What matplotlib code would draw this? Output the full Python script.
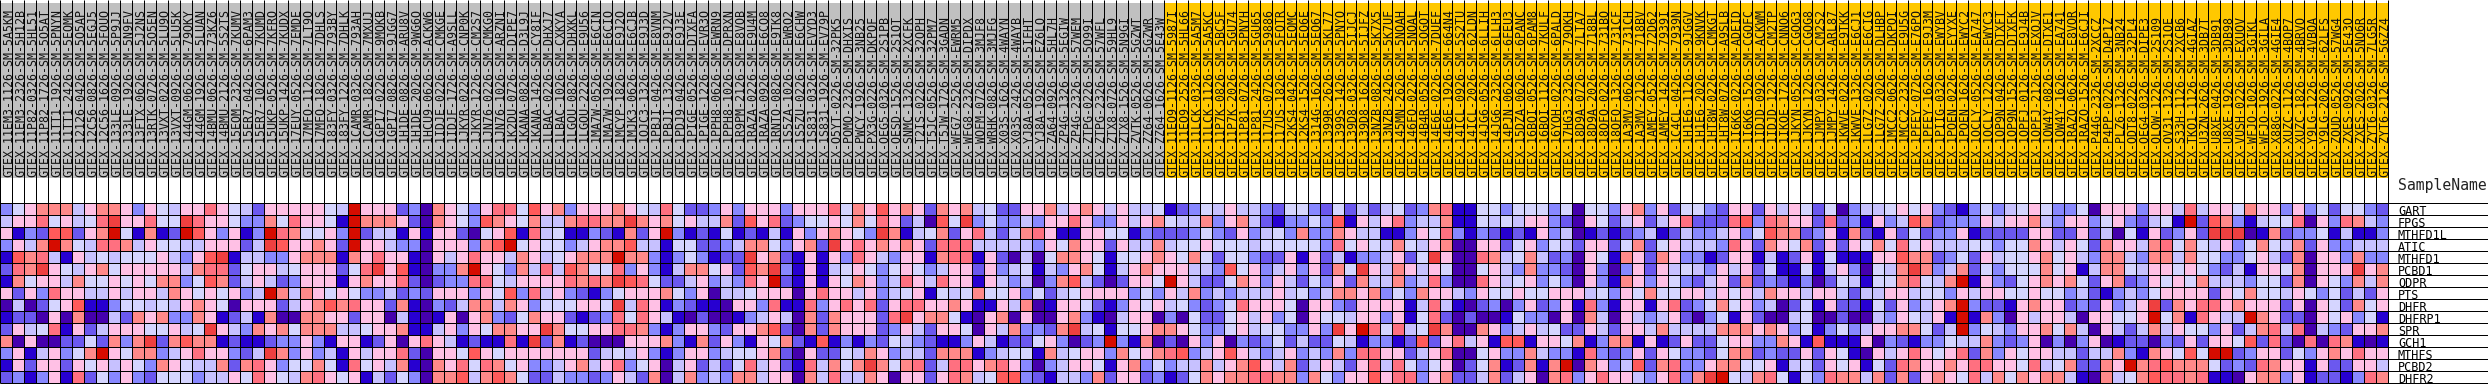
import matplotlib
matplotlib.use("Agg")
import matplotlib.pyplot as plt
from matplotlib.colors import ListedColormap
import numpy as np

# palette, one colour per expression level 0..b
palette = ["#4500AD", "#2700D1", "#6B58EF", "#8888FF", "#C7C1FF", "#D5D5FF",
           "#FFC0E5", "#FF8989", "#FF7080", "#FF5A5A", "#EF4040", "#D60C00"]

genes = ["GART", "FPGS", "MTHFD1L", "ATIC", "MTHFD1", "PCBD1", "QDPR", "PTS",
         "DHFR", "DHFRP1", "SPR", "GCH1", "MTHFS", "PCBD2", "DHFR2"]

# one character per sample, hex level
GART = ("3567774677" "6365466865" "426666654b" "66623"
        "0765368859" "6736667654" "8522363666" "3666"
        "8576967627" "6745226674" "6764644512" "3546"
        "4432553252" "4245237811" "5535553505" "5367"
        "3625532662" "6465250344" "5656321353" "4565"
        "3350666366" "4846657663" "63525532")
FPGS = ("466856458a" "66855a8665" "337586651b" "77762"
        "0765397657" "4478877a76" "7564472968" "2355"
        "6575862409" "5a35334366" "8633646754" "4736"
        "7421335391" "6468344711" "5454663206" "5246"
        "2468222893" "8766282316" "3497233364" "6674"
        "3663563245" "1b29731455" "80638743")
MTHFD1L = ("613299267b" "51712b9636" "13b875563b" "24416"
           "1662056918" "4511321726" "b312151214" "1636"
           "7653a71457" "2684247861" "1665513222" "3532"
           "6345373376" "4411365831" "3212163401" "2123"
           "4124334635" "9772361721" "6252336122" "2266"
           "2262405162" "362aaa0172" "33514113")
ATIC = ("3647b75488" "7465544666" "24a966762b" "66433"
        "0666379b56" "5534677944" "1552234775" "3672"
        "a686767628" "8844444365" "7662644745" "5655"
        "5455555385" "6547546700" "6625635426" "6257"
        "2564443862" "7657262657" "5856444553" "5576"
        "4652766478" "5754635754" "72633444")
MTHFD1 = ("1978416454" "55564369a1" "4433677717" "68661"
          "0646866476" "456777b773" "1353122a67" "2161"
          "6386436617" "8816204057" "7651556765" "7525"
          "5322616241" "334625a600" "8745742306" "5176"
          "2763312661" "4126151116" "6977235264" "5567"
          "5643774377" "4755335642" "70663733")
PCBD1 = ("287a654675" "6666647882" "5664566625" "8a691"
         "0337b65374" "8497558363" "147756297a" "3161"
         "4565356534" "6626345143" "6751467666" "4439"
         "5634636275" "a647646500" "5643733206" "3036"
         "2645436462" "5115146305" "47a7347253" "5557"
         "5614775466" "5653241665" "70666a67")
QDPR = ("1756647556" "5657735972" "4642366616" "76682"
        "0233885466" "668787a985" "224634386b" "2161"
        "6576348648" "6616434037" "94202665b6" "4225"
        "7636425362" "7447348300" "8645635306" "3176"
        "3653246272" "3213025415" "578547b163" "2567"
        "6752672365" "6574443552" "70653747")
PTS = ("6263866446" "4664765656" "34b7476565" "33423"
       "2666365938" "4632135666" "7536044566" "6068"
       "6646345615" "4575563524" "5666635364" "7343"
       "4446453477" "6735376643" "6556556664" "5365"
       "7556646564" "7664664244" "6645536466" "5565"
       "5342134356" "6662657554" "65352426")
DHFR = ("0402569113" "5545467650" "6662467978" "66271"
        "0324774763" "555665a486" "1321106638" "1183"
        "6868268866" "7611647016" "6521365645" "3235"
        "8666506632" "6666148410" "2303623618" "3166"
        "1682357563" "4025162215" "263467b322" "1676"
        "62326346a2" "7688676662" "60652756")
DHFRP1 = ("1220607004" "2767337612" "4170077662" "66041"
          "0160673257" "6621238586" "4102001346" "4072"
          "766628a677" "5106706006" "7310466030" "5225"
          "6463506554" "6636158202" "0015330607" "4064"
          "3462035162" "0045002004" "365461b173" "0646"
          "64066556b5" "718644b762" "20656351")
SPR = ("2645816246" "6655645a64" "3767577744" "56671"
       "1463657766" "a755668873" "1366326679" "2072"
       "7666236426" "6506473327" "a451556776" "5335"
       "64553363a6" "b85845a700" "7634645226" "4266"
       "4744447776" "7635135346" "677524b354" "3667"
       "5740642474" "6553624784" "80432667")
GCH1 = ("7060022527" "37a2797712" "1123363166" "12606"
        "864121181a" "2712000666" "7317263165" "7219"
        "1313254321" "1364122563" "023b317020" "6360"
        "3235242254" "1331292684" "6199166571" "3771"
        "6126225663" "3761911160" "3213354473" "2360"
        "3036012203" "2626659282" "08087101")
MTHFS = ("36146357b6" "5773468663" "24a7363416" "46682"
         "0665965666" "6666245463" "1366345567" "2062"
         "2547634427" "7713455174" "5663756789" "3469"
         "6434634373" "8866246800" "5633743318" "3236"
         "2653325772" "3226265106" "4686568273" "6566"
         "4424473176" "595bb23662" "53676866")
PCBD2 = ("1626626564" "6537654472" "7863557518" "56471"
         "0768587563" "3467468356" "0462425846" "2184"
         "757a757824" "8867863034" "6651673534" "4746"
         "7964724642" "6848535602" "5712717b07" "6349"
         "2783367755" "6145265615" "2876676886" "6584"
         "572276b789" "7775232876" "61622664")
DHFR2 = ("2313618253" "6325553446" "5865478656" "14253"
         "0779479752" "2433236427" "0473437746" "6074"
         "8447606626" "8745993214" "4372662312" "5767"
         "7887737536" "6968836722" "4724607836" "8664"
         "36837ab547" "8515387747" "2726765847" "5767"
         "7410745798" "8781106773" "61221387")

levels = [GART, FPGS, MTHFD1L, ATIC, MTHFD1, PCBD1, QDPR, PTS, DHFR, DHFRP1,
          SPR, GCH1, MTHFS, PCBD2, DHFR2]

gray_samples = """11EM3-1126-SM-5A5KM 11EM3-2326-SM-5H12B 11P82-0326-SM-5HL51 11P82-1726-SM-5O5AT
11TT1-1926-SM-5PNYN 11TT1-2426-SM-5EQMK 12126-0426-SM-5O5AP 12C56-0826-SM-5EGJ5 12C56-1626-SM-5FQUO
133LE-0926-SM-5P9JJ 133LE-1926-SM-5N9FV 13FTX-0626-SM-5J2NS 13RTK-0726-SM-5O5EN 13VXT-0226-SM-5LU9O
13VXT-0926-SM-5LU5K 144GM-0626-SM-79OKY 144GM-1926-SM-5LUAN 14BMU-0626-SM-73KZ6 14BMU-2126-SM-5S2TS
15EOM-2326-SM-7KUMV 15ER7-0426-SM-6PAM3 15ER7-1026-SM-7KUMD 15UKP-0526-SM-7KFRO 15UKP-1426-SM-7KUDX
17EUY-0526-SM-7EMDE 17MFQ-1126-SM-7LT9O 17MFQ-1826-SM-7DHLS 183FY-0326-SM-793BY 183FY-1226-SM-7DHLK
1CAMR-0326-SM-793AH 1CAMR-1826-SM-7MXUJ 1GPI7-0226-SM-9MQKB 1GPI7-0826-SM-9JGG7 1H1DE-0826-SM-ARU8V
1H1DE-2026-SM-9WG6O 1HCU9-0626-SM-ACKW6 1IDJE-0226-SM-CMKGE 1IDJF-1726-SM-A9SLL 1JKYR-0226-SM-CNP0K
1JKYR-1226-SM-CM2S7 1JN76-0226-SM-CMKG0 1JN76-1026-SM-ARZNI 1K2DU-0726-SM-DIPE7 1KANA-0826-SM-D3L9J
1KANA-1426-SM-CY8IF 1LBAC-0226-SM-DHXJ7 1LBAC-1026-SM-CXKYA 1LGOU-0826-SM-DHXKL 1LGOU-2226-SM-E9U56
1MA7W-0526-SM-E6CIN 1MA7W-1926-SM-E6CIO 1MCYP-1826-SM-E9J2O 1MJK3-0626-SM-E6CJB 1OJC3-1326-SM-E9J3D
1PBJI-0426-SM-E8VNM 1PBJI-1326-SM-E9J2V 1PDJ9-0426-SM-E9J3E 1PIGE-0526-SM-DTXFA 1PIGE-1226-SM-EVR3O
1PPH8-0626-SM-EWRN9 1PPH8-1026-SM-DPRXN 1R9PM-2126-SM-E8VOB 1RAZA-0226-SM-E9U4M 1RAZA-0926-SM-E6CQ8
1RNTQ-0826-SM-E9TK8 1S5ZA-1026-SM-EWRO2 1S5ZU-0226-SM-E6CHW 1S831-0326-SM-EVYD3 1S831-1926-SM-EV79P
O5YT-0226-SM-32PK5 POMQ-2326-SM-DHXIS PWCY-1926-SM-3NB25 PX3G-0226-SM-DKPOF QEG5-0326-SM-2S1PB
QESD-1526-SM-2S1OT SNMC-1326-SM-2XCFK T2IS-0226-SM-32OPH T5JC-0526-SM-32PM7 T5JW-1726-SM-3GADN
WFG7-2526-SM-EWRM5 WFG8-2326-SM-DIPDX WOFM-0726-SM-3MJF8 WRHK-0826-SM-3MJFG X03S-1626-SM-4WAYN
X03S-2426-SM-4WAYB YJ8A-0526-SM-5IFHT YJ8A-1926-SM-EZ6LQ ZA64-0926-SM-5HL7H ZP4G-1326-SM-5EGIW
ZP4G-2326-SM-57WEM ZTPG-0226-SM-5O99I ZTPG-2326-SM-57WFL ZTX8-0726-SM-59HL9 ZTX8-1526-SM-5N9GI
ZVTK-0526-SM-5GZWT ZZ64-0626-SM-5GZWR ZZ64-1626-SM-5E43W""".split()

orange_samples = """11EO9-1126-SM-5987I 11EO9-2526-SM-5HL66 11LCK-0326-SM-5A5M7 11LCK-1126-SM-5A5KC
11P7K-0826-SM-5BC5F 11P7K-2026-SM-5GU74 11P81-0726-SM-5PNYH 11P81-2426-SM-5GU65 117US-0726-SM-59886
117US-1826-SM-5FQTR 12KS4-0426-SM-5EQMC 12KS4-1526-SM-5EQ6E 1314G-1626-SM-5EQ67 1399R-2626-SM-5KL77
1399S-1426-SM-5PNYQ 139D8-0326-SM-5IJCJ 139D8-1626-SM-5IJFZ 13NZB-0826-SM-5K7X5 13NZB-2426-SM-5K7UF
145MN-2626-SM-5NQAH 146FQ-0226-SM-5NQAL 14B4R-0526-SM-5QGQT 14E6E-0226-SM-7DUEF 14E6E-1926-SM-664N4
14ICL-0926-SM-5S2TU 14ICL-2026-SM-62LDN 14JG6-0526-SM-6LLIH 14JG6-2326-SM-6LLH3 14PJN-0626-SM-6FEU3
15DZA-0626-SM-6PANC 16BQI-0526-SM-6PAM8 16BQI-1126-SM-7KULF 16YQH-0226-SM-6PALD 17HG3-2326-SM-79OKH
18D9A-0726-SM-7LTA7 18D9A-2026-SM-718BL 18QFQ-0226-SM-731BQ 18QFQ-1326-SM-731CF 1A3MV-0626-SM-731CH
1A3MV-2126-SM-718BV 1AMEY-0526-SM-72D62 1AMEY-1426-SM-7939I 1C4CL-0426-SM-7939N 1H1E6-1126-SM-9JGGV
1H1E6-2026-SM-9KNVK 1HT8W-0226-SM-CMKGT 1HT8W-0726-SM-A9SLB 1I6K6-0226-SM-ADEID 1I6K6-1526-SM-CGQFC
1IDJD-0926-SM-ACKWM 1IDJD-1226-SM-CM2TP 1IKOE-1726-SM-CNNO6 1JKYN-0526-SM-CGQG3 1JKYN-1226-SM-CGQG8
1JMPY-0326-SM-CM2S2 1JMPY-1426-SM-ARL87 1KWVE-0226-SM-E9TKK 1KWVE-1326-SM-E6CJ1 1LG7Z-0226-SM-E6CIG
1LG7Z-2026-SM-DLHBP 1MCC2-0626-SM-DKPOI 1MCC2-2326-SM-E9U5G 1PFEY-0726-SM-E76PO 1PFEY-1626-SM-E9J3M
1PIIG-0326-SM-EWYBV 1POEN-0226-SM-EYYXE 1POEN-1626-SM-EWYC2 1OCLY-0526-SM-EA747 1OCLY-1226-SM-EWYC3
1OP9N-0426-SM-DTXFT 1OP9N-1526-SM-DTXFK 1QPFJ-0126-SM-E9J4B 1QPFJ-2126-SM-EXOJV 1QW4Y-0826-SM-DTXE1
1QW4Y-1626-SM-EA741 1RAZQ-0626-SM-E8VOR 1RAZQ-1526-SM-E6CJI P44G-2326-SM-2XCCZ P4PP-0226-SM-D4P1Z
PLZ6-1326-SM-3NB24 QDT8-0226-SM-32PL4 QEG4-0326-SM-DIPE3 QLQW-1226-SM-2S109 QV31-1326-SM-2S1QE
S33H-1126-SM-2XCB6 TKQ1-1126-SM-4GIAZ U3ZN-2626-SM-3DB7T U8XE-0426-SM-3DB91 U8XE-1926-SM-3DB98
VUSH-0226-SM-EXUOV WFJO-1026-SM-3GIKL WFJO-1926-SM-3GILA X88G-0226-SM-4GIE4 XUZC-1126-SM-4BOP7
XUZC-1826-SM-4BRVO Y9LG-1226-SM-4VBOA Y9LG-2026-SM-62LFS ZQUD-0526-SM-57WG4 ZXES-0926-SM-5E43O
ZXES-2026-SM-5NQ6R ZYT6-0326-SM-7LG5R ZYT6-2126-SM-5GZZ4""".split()

samples = ["GTEX-" + s for s in gray_samples + orange_samples]
n_gray = len(gray_samples)
n_cols = len(samples)
n_rows = len(genes)

matrix = np.array([[int(c, 16) for c in row] for row in levels])

W, H = 2488, 384
CELL = 12
X0, Y0 = 0.0, 203.0  # pixel position of the top left cell corner

fig = plt.figure(figsize=(W / 100, H / 100), dpi=100, facecolor="white")
ax = fig.add_axes([0, 0, 1, 1])
ax.set_xlim(-X0 / CELL, (W - X0) / CELL)
ax.set_ylim((H - Y0) / CELL, -Y0 / CELL)
ax.axis("off")

# sample name strip on top
strip_top = (3 - Y0) / CELL
strip_bottom = (178 - Y0) / CELL
strip_colors = ["#C0C0C0"] * n_gray + ["#FFC800"] * (n_cols - n_gray)
ax.bar(np.arange(n_cols) + 0.5, strip_top - strip_bottom, bottom=strip_bottom,
       width=1.0, color=strip_colors, linewidth=0, zorder=1)

cmap = ListedColormap(palette)
ax.pcolormesh(np.arange(n_cols + 1), np.arange(n_rows + 1), matrix, cmap=cmap,
              vmin=-0.5, vmax=11.5, linewidth=0, antialiased=False, zorder=1)

# grid
lw = 72 / 100
ax.vlines(np.arange(n_cols + 1), -Y0 / CELL, n_rows, color="black", lw=lw, zorder=2)
ax.hlines(np.arange(n_rows + 1), 0, (W - X0) / CELL, color="black", lw=lw, zorder=2)

mono = "DejaVu Sans Mono"
text_bottom = (177 - Y0) / CELL
for i, s in enumerate(samples):
    ax.text(i + 1 + 0.02, text_bottom, s, rotation=90, rotation_mode="anchor",
            ha="left", va="baseline", family=mono, fontsize=8.4, color="#111111", zorder=3)

label_x = n_cols + (2398 - 2388.0) / CELL
for r, g in enumerate(genes):
    ax.text(label_x, r + 0.96, g, ha="left", va="baseline", family=mono,
            fontsize=8.45, color="black", zorder=3)
ax.text(label_x, (190 - Y0) / CELL, "SampleName", ha="left", va="baseline", family=mono,
        fontsize=10.6, color="#222222", zorder=3)

fig.savefig("out.png", dpi=100, facecolor="white")
